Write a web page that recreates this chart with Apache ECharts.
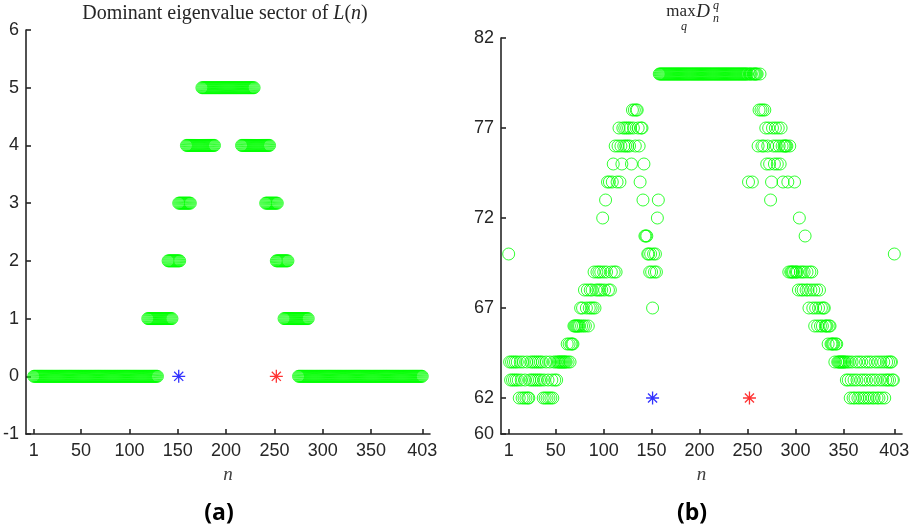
<!DOCTYPE html>
<html>
<head>
<meta charset="utf-8">
<script src="https://cdn.jsdelivr.net/npm/echarts@6/dist/echarts.min.js"></script>
<style>
  html, body { margin: 0; padding: 0; background: #ffffff; }
  #chart { width: 916px; height: 532px; }
</style>
</head>
<body>
<div id="chart"></div>
<script>
// Tick positions
const nTicks = [1, 50, 100, 150, 200, 250, 300, 350, 403];
const sectorTicks = [-1, 0, 1, 2, 3, 4, 5, 6];
const dTicks = [60, 62, 67, 72, 77, 82];

// Panel (a): dominant sector, as runs of n with a constant sector index
const sectorLevel = [0, 1, 2, 3, 4, 5, 4, 3, 2, 1, 0];
const sectorFrom  = [1, 119, 140, 151, 159, 175, 216, 241, 252, 260, 275];
const sectorTo    = [129, 144, 152, 163, 188, 229, 245, 253, 264, 285, 403];

// Panel (b): max_q D_n^q for n = 1..403, in blocks starting at the listed n
const maxDStart = [1, 51, 101, 151, 201, 251, 301, 351];
const maxD001 = [70,64,63,64,63,64,63,64,63,64, 63,62,64,63,62,64,62,63,62,64,
                 62,62,63,64,63,64,63,64,63,64, 63,64,63,64,63,64,62,63,62,64,
                 62,63,62,64,62,63,62,64,63,64];
const maxD051 = [63,64,64,64,64,64,64,64,64,64, 64,65,64,65,64,65,65,65,66,66,
                 66,66,66,66,66,67,66,67,66,68, 66,67,68,66,67,68,67,68,67,69,
                 67,68,69,68,69,68,69,68,72,69];
const maxD101 = [68,73,69,74,68,74,68,69,74,75, 69,76,69,74,76,77,74,76,75,77,
                 76,77,76,77,76,77,76,77,75,78, 77,78,76,78,78,77,76,74,77,77,
                 73,75,71,71,71,70,70,69,70,69];
const maxD151 = [67,70,69,70,69,72,73,80,80,80, 80,80,80,80,80,80,80,80,80,80,
                 80,80,80,80,80,80,80,80,80,80, 80,80,80,80,80,80,80,80,80,80,
                 80,80,80,80,80,80,80,80,80,80];
const maxD201 = [80,80,80,80,80,80,80,80,80,80, 80,80,80,80,80,80,80,80,80,80,
                 80,80,80,80,80,80,80,80,80,80, 80,80,80,80,80,80,80,80,80,80,
                 80,80,80,80,80,80,80,80,80,80];
const maxD251 = [74,80,80,80,74,80,80,80,80,80, 76,78,80,78,76,78,76,78,77,75,
                 76,77,75,73,74,77,76,75,77,76, 75,77,76,75,77,76,74,76,76,76,
                 76,74,69,76,69,69,69,69,74,69];
const maxD301 = [69,69,68,72,69,68,69,68,69,71, 68,69,68,67,69,68,69,67,68,66,
                 67,68,66,67,68,66,67,66,67,67, 66,66,66,65,66,66,65,65,65,65,
                 64,65,65,64,64,64,64,64,64,64];
const maxD351 = [64,64,63,64,63,64,62,63,64,62, 63,62,64,63,62,64,62,63,64,62,
                 63,62,64,63,62,64,62,63,64,62, 63,62,64,63,62,64,62,63,64,62,
                 63,64,62,63,64,63,64,63,64,64, 63,63,70];

// Marked indices
const bluePoint = [151, 0];
const redPoint = [252, 0];
const bluePointD = [151, 62];
const redPointD = [252, 62];

// Build scatter data
const sectorData = [];
sectorLevel.forEach(function (lv, i) {
  for (let n = sectorFrom[i]; n <= sectorTo[i]; n++) sectorData.push([n, lv]);
});
const maxDData = [];
[maxD001, maxD051, maxD101, maxD151, maxD201, maxD251, maxD301, maxD351].forEach(function (blk, b) {
  blk.forEach(function (v, i) { maxDData.push([maxDStart[b] + i, v]); });
});

const axisColor = '#262626';
const green = '#00ff00';
const starPath = 'path://M5,0 L5,10 M0,5 L10,5 M1.5,1.5 L8.5,8.5 M1.5,8.5 L8.5,1.5';

function xAxisCfg(gi) {
  return {
    type: 'value', gridIndex: gi, min: -7, max: 411,
    axisLine: { show: true, onZero: false, lineStyle: { color: axisColor, width: 1.6 } },
    axisTick: { show: true, inside: true, length: 5, customValues: nTicks, lineStyle: { color: axisColor, width: 1.6 } },
    axisLabel: { customValues: nTicks, color: axisColor, fontSize: 18, fontFamily: 'Liberation Sans', margin: 8 },
    splitLine: { show: false },
    name: 'n', nameLocation: 'middle', nameGap: 31,
    nameTextStyle: { fontFamily: 'Liberation Serif', fontStyle: 'italic', fontSize: 19, color: '#404040' }
  };
}
function yAxisCfg(gi, min, max, ticks) {
  return {
    type: 'value', gridIndex: gi, min: min, max: max,
    axisLine: { show: true, onZero: false, lineStyle: { color: axisColor, width: 1.6 } },
    axisTick: { show: true, inside: true, length: 5, customValues: ticks, lineStyle: { color: axisColor, width: 1.6 } },
    axisLabel: { customValues: ticks, color: axisColor, fontSize: 18, fontFamily: 'Liberation Sans', margin: 7 },
    splitLine: { show: false }
  };
}

const ringStyle = { color: 'rgba(0,0,0,0)', borderColor: green, borderWidth: 1 };
function starSeries(xi, pt, col) {
  return {
    type: 'scatter', xAxisIndex: xi, yAxisIndex: xi, data: [pt],
    symbol: starPath, symbolSize: 13, silent: true,
    itemStyle: { color: 'rgba(0,0,0,0)', borderColor: col, borderWidth: 1.3 }
  };
}

const serif = 'Liberation Serif';
const chart = echarts.init(document.getElementById('chart'), null, { renderer: 'canvas' });
chart.setOption({
  animation: false,
  backgroundColor: '#ffffff',
  grid: [
    { left: 25, top: 30, width: 405, height: 404 },
    { left: 501, top: 38, width: 401, height: 396 }
  ],
  xAxis: [xAxisCfg(0), xAxisCfg(1)],
  yAxis: [yAxisCfg(0, -1, 6, sectorTicks), yAxisCfg(1, 60, 82, dTicks)],
  series: [
    { type: 'scatter', xAxisIndex: 0, yAxisIndex: 0, data: sectorData, symbol: 'circle', symbolSize: 12, clip: false, itemStyle: ringStyle },
    { type: 'scatter', xAxisIndex: 1, yAxisIndex: 1, data: maxDData, symbol: 'circle', symbolSize: 12, clip: false, itemStyle: ringStyle },
    starSeries(0, bluePoint, '#0000ff'),
    starSeries(0, redPoint, '#ff0000'),
    starSeries(1, bluePointD, '#0000ff'),
    starSeries(1, redPointD, '#ff0000')
  ],
  graphic: [
    {
      type: 'text', x: 225, y: 14,
      style: {
        text: 'Dominant eigenvalue sector of {i|L}({i|n})',
        align: 'center', verticalAlign: 'middle',
        fontFamily: serif, fontSize: 20, fill: '#262626',
        rich: { i: { fontStyle: 'italic', fontFamily: serif, fontSize: 20, fill: '#262626' } }
      }
    },
    { type: 'text', x: 681, y: 12, style: { text: 'max', align: 'center', verticalAlign: 'middle', fontFamily: serif, fontSize: 17, fill: '#262626' } },
    { type: 'text', x: 684, y: 27, style: { text: 'q', align: 'center', verticalAlign: 'middle', fontFamily: serif, fontStyle: 'italic', fontSize: 12, fill: '#262626' } },
    { type: 'text', x: 703, y: 12, style: { text: 'D', align: 'center', verticalAlign: 'middle', fontFamily: serif, fontStyle: 'italic', fontSize: 19, fill: '#262626' } },
    { type: 'text', x: 716, y: 6, style: { text: 'q', align: 'center', verticalAlign: 'middle', fontFamily: serif, fontStyle: 'italic', fontSize: 12, fill: '#262626' } },
    { type: 'text', x: 716, y: 19, style: { text: 'n', align: 'center', verticalAlign: 'middle', fontFamily: serif, fontStyle: 'italic', fontSize: 12, fill: '#262626' } },
    { type: 'text', x: 219, y: 513, style: { text: '(a)', align: 'center', verticalAlign: 'middle', fontFamily: 'Open Sans', fontWeight: 'bold', fontSize: 23, fill: '#000000' } },
    { type: 'text', x: 692, y: 513, style: { text: '(b)', align: 'center', verticalAlign: 'middle', fontFamily: 'Open Sans', fontWeight: 'bold', fontSize: 23, fill: '#000000' } }
  ]
});
</script>
</body>
</html>
